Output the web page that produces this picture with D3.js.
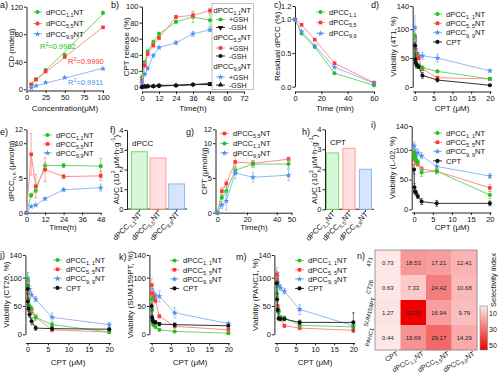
<!DOCTYPE html>
<html>
<head>
<meta charset="utf-8">
<script src="https://cdn.jsdelivr.net/npm/d3@7"></script>
<style>
  body { margin: 0; background: #fff; }
  svg { display: block; }
</style>
</head>
<body>
<svg width="500" height="373"></svg>
<script>
// ---- data ----
const concA = [6.25, 12.5, 25, 50, 100];
const cdA = [[7, 15, 28, 50, 111], [7, 14, 26, 47, 90], [2, 5, 10, 17, 30]];
const r2A = ["0.9962", "0.9990", "0.9911"];

const timeB = [0, 2, 4, 8, 12, 24, 36, 48];
const relGsh = [[12, 31, 44, 56, 66, 81, 87, 83], [8, 27, 41, 52, 61, 87, 89, 95], [5, 16, 23, 39, 49, 55, 66, 71]];
const errGsh = [[3, 2, 2, 2, 2, 2, 7, 8], [2, 2, 2, 3, 2, 2, 3, 3], [1, 1, 1, 2, 1, 2, 3, 2]];
const relNoGsh = [[0, 1, 1, 1, 2, 2, 3, 4], [0, 1, 1, 1, 1, 2, 3, 4], [0, 0, 1, 1, 2, 2, 3, 3]];

const timeC = [0, 5, 15, 30, 60];
const resC = [[1, 0.79, 0.59, 0.20, 0.02], [1, 0.92, 0.70, 0.35, 0.06], [1, 0.82, 0.61, 0.29, 0.05]];

const doses = [0.02, 0.1, 0.25, 0.5, 1, 2, 6, 20];
// order: dPCC1,1NT, dPCC5,5NT, dPCC9,9NT, CPT
const via4T1 = [[88, 55, 40, 35, 37, 33, 27, 14], [85, 68, 58, 55, 50, 31, 16, 14], [103, 80, 65, 58, 55, 54, 50, 28], [72, 48, 42, 38, 35, 20, 12, 3]];
const err4T1 = [[4, 4, 3, 3, 3, 3, 2, 2], [5, 4, 4, 3, 4, 3, 3, 2], [20, 8, 6, 5, 5, 6, 7, 2], [5, 4, 3, 3, 3, 5, 3, 1]];
const viaL02 = [[95, 92, 88, 84, 80, 62, 64, 24], [96, 90, 84, 80, 76, 68, 64, 36], [107, 100, 95, 93, 95, 90, 72, 56], [67, 37, 30, 28, 22, 13, 10, 10]];
const errL02 = [[4, 4, 4, 4, 4, 7, 5, 6], [4, 4, 4, 4, 4, 4, 4, 6], [6, 6, 5, 5, 6, 5, 5, 4], [8, 6, 4, 4, 4, 5, 5, 4]];
const viaCT26 = [[97, 85, 62, 50, 45, 30, 17, 4], [90, 72, 50, 45, 40, 30, 8, 4], [100, 93, 85, 80, 70, 62, 30, 17], [80, 58, 45, 35, 23, 11, 10, 9]];
const errCT26 = [[12, 6, 5, 5, 5, 5, 4, 2], [8, 6, 5, 5, 5, 5, 4, 2], [8, 6, 6, 5, 5, 5, 8, 4], [8, 6, 5, 5, 6, 4, 3, 2]];
const viaSUM = [[62, 43, 20, 16, 13, 8, 5, 2], [87, 72, 68, 63, 59, 32, 14, 8], [80, 76, 73, 70, 68, 67, 38, 19], [50, 30, 25, 22, 21, 18, 17, 15]];
const errSUM = [[6, 4, 3, 2, 2, 2, 2, 1], [12, 6, 5, 5, 4, 3, 3, 2], [6, 6, 5, 5, 5, 10, 9, 2], [5, 4, 3, 3, 3, 3, 3, 2]];
const viaPANC = [[92, 72, 45, 40, 30, 29, 16, 13], [105, 97, 50, 42, 30, 15, 11, 7], [108, 102, 92, 86, 82, 76, 44, 15], [90, 62, 43, 28, 27, 27, 21, 21]];
const errPANC = [[5, 5, 4, 4, 3, 3, 3, 3], [6, 5, 5, 4, 3, 3, 3, 3], [10, 6, 5, 5, 5, 5, 9, 4], [6, 5, 4, 3, 3, 3, 4, 17]];

const timeE = [0, 3, 6, 12, 24, 48];
const accE = [[0, 2.5, 3.2, 6.8, 6.8, 6.7], [0, 8.4, 3.8, 6.2, 5.2, 5.3], [0, 0.9, 1.1, 2.0, 3.3, 3.6]];
const errE = [[0, 0.3, 0.3, 0.4, 0.3, 1.1], [0, 3, 1.7, 1.7, 0.3, 0.7], [0, 0.1, 0.1, 0.15, 0.2, 0.5]];
// panel g order: dPCC5,5NT, dPCC1,1NT, dPCC9,9NT
const accG = [[0, 3.1, 4.2, 7.3, 7.1, 7.7], [0, 2.2, 3.1, 6.1, 7.0, 7.0], [0, 1.1, 1.7, 5.7, 5.1, 5.4]];
const errG = [[0, 0.5, 0.5, 0.9, 0.4, 0.3], [0, 0.3, 0.6, 0.6, 0.5, 0.6], [0, 0.5, 1.3, 0.8, 0.7, 0.8]];

const barNames = ["dPCC_{1,1}NT", "dPCC_{5,5}NT", "dPCC_{9,9}NT"];
const aucDpcc = [2.9, 2.58, 1.27];
const aucCpt = [2.82, 3.05, 2.0];

const hmCols = ["CPT", "dPCC_{1,1}NT", "dPCC_{5,5}NT", "dPCC_{9,9}NT"];
const hmRows = ["4T1", "CT26", "SUM159PT", "PANC1"];
const hmVals = [[0.73, 18.53, 17.21, 12.41], [0.63, 7.33, 24.42, 10.68], [1.27, 52.50, 16.94, 9.79], [0.44, 19.69, 29.17, 14.29]];

// ---- styles ----
const FONT = '"Liberation Sans", Arial, sans-serif';
const MARK = { g: "#1cc41c", r: "#ff3434", b: "#4d8ff0", k: "#111" };
const LINE = { g: "#6ad86a", r: "#ff8e8e", b: "#95bbf2", k: "#333" };
const FILL = { g: "#d8f6d8", r: "#ffe1e1", b: "#d6e5fb" };
const EDGE = { g: "#72db72", r: "#ff9c9c", b: "#8ab5f0" };
const SYM = { g: d3.symbolCircle, r: d3.symbolSquare, b: d3.symbolStar, k: d3.symbolCircle };
const SIZE = { g: 13, r: 13, b: 12, k: 13 };
const KEYS = ["g", "r", "b", "k"];
const TICK_FS = 7.5, TITLE_FS = 8, LEG_FS = 7.5;

const svg = d3.select("svg").attr("font-family", FONT);
svg.append("rect").attr("width", 500).attr("height", 373).attr("fill", "#fff");

// text with _{sub} and ^{sup}
function rich(t, s, fs) {
  const parts = s.split(/(_\{[^}]*\}|\^\{[^}]*\})/).filter(p => p);
  let shift = 0;
  parts.forEach(p => {
    let target = 0, size = null, str = p;
    if (p[0] === "_") { str = p.slice(2, -1); target = fs * 0.3; size = fs * 0.72; }
    else if (p[0] === "^") { str = p.slice(2, -1); target = -fs * 0.4; size = fs * 0.72; }
    const ts = t.append("tspan").attr("dy", target - shift).text(str);
    if (size) ts.attr("font-size", size);
    shift = target;
  });
}

function txt(x, y, s, o = {}) {
  const fs = o.fs || TITLE_FS;
  const t = svg.append("text").attr("x", x).attr("y", y)
    .attr("font-size", fs).attr("fill", o.fill || "#111")
    .attr("text-anchor", o.anchor || "start");
  if (o.rot) t.attr("transform", `rotate(${o.rot},${x},${y})`);
  rich(t, s, fs);
  return t;
}

function styleAxis(g) {
  g.attr("font-size", TICK_FS).attr("font-family", FONT);
  g.selectAll("path,line").attr("stroke", "#222").attr("stroke-width", 1);
  g.selectAll("text").attr("fill", "#111");
}

// axes + titles; o.ax = y of the x axis (may sit a little below y(0))
function axes(x, y, o) {
  const ax = o.ax || o.b;
  if (o.xt) {
    svg.append("g").attr("transform", `translate(0,${ax})`)
      .call(d3.axisBottom(x).tickValues(o.xt).tickSize(2.5).tickPadding(1.5).tickSizeOuter(0).tickFormat(o.xf || d3.format("")))
      .call(styleAxis);
  }
  const yl = o.yax || o.l;
  const gy = svg.append("g").attr("transform", `translate(${yl},0)`)
    .call(d3.axisLeft(y).tickValues(o.yt).tickSize(2.5).tickPadding(1).tickSizeOuter(0).tickFormat(o.yf || d3.format("")))
    .call(styleAxis);
  if (o.xlab) txt(o.xlab[0], o.xlab[1], o.xlab[2], { anchor: "middle" });
  // y title: keep clear of the tick labels that share its height
  const cy = (o.b + o.t) / 2;
  const lab = txt(0, cy, o.ylab, { anchor: "middle" });
  const half = lab.node().getComputedTextLength() / 2 + 3;
  const w = d3.max(o.yt.filter(v => Math.abs(y(v) - cy) < half), v => {
    const n = gy.selectAll(".tick text").filter(d => d === v).node();
    return n ? n.getComputedTextLength() : 0;
  }) || 0;
  const lx = Math.max(7, yl - 3.5 - w - 0.8);
  lab.attr("x", lx).attr("transform", `rotate(-90,${lx},${cy})`);
  txt(o.letter[0], o.letter[1], o.letter[2], { fs: 9 });
}

function panel(o) {
  const x = d3.scaleLinear().domain(o.xd).range([o.l, o.r]);
  const y = d3.scaleLinear().domain(o.yd).range([o.b, o.t]);
  axes(x, y, o);
  return { x, y };
}

function marker(g, x, y, key, sym, size, flip) {
  g.append("path")
    .attr("transform", `translate(${x},${y})${flip ? " rotate(180)" : ""}`)
    .attr("d", d3.symbol(sym, size || SIZE[key])())
    .attr("fill", MARK[key]);
}

function series(p, xs, ys, es, key, sym, opt = {}) {
  const g = svg.append("g");
  const pts = xs.map((v, i) => ({ px: p.x(v), py: p.y(ys[i]), v: ys[i], e: es ? es[i] : 0 }));
  g.append("path")
    .attr("d", d3.line().x(d => d.px).y(d => d.py)(pts))
    .attr("fill", "none").attr("stroke", LINE[key]).attr("stroke-width", 1);
  pts.filter(d => d.e > 0).forEach(d => {
    const y1 = p.y(d.v - d.e), y2 = p.y(d.v + d.e);
    g.append("path")
      .attr("d", `M${d.px},${y1}V${y2}M${d.px - 1.5},${y1}h3M${d.px - 1.5},${y2}h3`)
      .attr("stroke", key === "k" ? "#555" : LINE[key]).attr("stroke-width", 0.8).attr("fill", "none");
  });
  pts.forEach(d => marker(g, d.px, d.py, key, sym, opt.size, opt.flip));
}

function legendItem(x, y, key, sym, label, opt = {}) {
  const g = svg.append("g");
  g.append("line").attr("x1", x).attr("x2", x + 9).attr("y1", y).attr("y2", y)
    .attr("stroke", LINE[key]).attr("stroke-width", 1);
  marker(g, x + 4.5, y, key, sym, null, opt.flip);
  txt(x + 13, y + 2.7, label, { fs: opt.fs || LEG_FS });
}

// ---- a) CD vs concentration ----
{
  const p = panel({ l: 26.5, r: 103, b: 89.3, t: 6.7, ax: 90.5, xd: [0, 100], yd: [0, 120],
    xt: [0, 25, 50, 75, 100], yt: [0, 40, 80, 120],
    xlab: [65, 111, "Concentration(μM)"], ylab: "CD (mdeg)", letter: [0, 8, "a)"] });
  const keys = ["g", "r", "b"];
  cdA.forEach((ys, i) => {
    const mx = d3.mean(concA), my = d3.mean(ys);
    const k = d3.sum(concA, (c, j) => (c - mx) * (ys[j] - my)) / d3.sum(concA, c => (c - mx) ** 2);
    const b0 = my - k * mx;
    svg.append("line").attr("x1", p.x(5)).attr("x2", p.x(100))
      .attr("y1", p.y(b0 + k * 5)).attr("y2", p.y(b0 + k * 100))
      .attr("stroke", LINE[keys[i]]).attr("stroke-width", 1);
    const g = svg.append("g");
    concA.forEach((c, j) => marker(g, p.x(c), p.y(ys[j]), keys[i], SYM[keys[i]]));
  });
  txt(40, 49, "R^{2}=" + r2A[0], { fill: MARK.g, fs: LEG_FS });
  txt(68, 64, "R^{2}=" + r2A[1], { fill: MARK.r, fs: LEG_FS });
  txt(68, 85, "R^{2}=" + r2A[2], { fill: MARK.b, fs: LEG_FS });
  legendItem(33, 12, "g", SYM.g, "dPCC_{1,1}NT");
  legendItem(33, 23.5, "r", SYM.r, "dPCC_{5,5}NT");
  legendItem(33, 34, "b", SYM.b, "dPCC_{9,9}NT");
}

// ---- b) CPT release ----
{
  const p = panel({ l: 142, r: 244, b: 87, t: 6.5, ax: 91.5, xd: [0, 72], yd: [0, 100],
    xt: d3.range(0, 73, 12), yt: d3.range(0, 101, 20),
    xlab: [193, 111, "Time(h)"], ylab: "CPT release (%)", letter: [111, 8, "b)"] });
  ["g", "r", "b"].forEach((k, i) => series(p, timeB, relGsh[i], errGsh[i], k, SYM[k]));
  series(p, timeB, relNoGsh[0], null, "k", d3.symbolTriangle, { flip: true, size: 11 });
  series(p, timeB, relNoGsh[1], null, "k", d3.symbolCircle, { size: 11 });
  series(p, timeB, relNoGsh[2], null, "k", d3.symbolTriangle, { size: 11 });
  svg.append("rect").attr("x", 212).attr("y", 3.5).attr("width", 41.5).attr("height", 86)
    .attr("fill", "none").attr("stroke", "#999").attr("stroke-width", 0.6);
  txt(213.5, 13, "dPCC_{1,1}NT", { fs: LEG_FS });
  legendItem(216, 19.5, "g", SYM.g, "+GSH", { fs: 7 });
  legendItem(216, 27.5, "k", d3.symbolTriangle, "-GSH", { fs: 7, flip: true });
  txt(213.5, 40, "dPCC_{5,5}NT", { fs: LEG_FS });
  legendItem(216, 48, "r", SYM.r, "+GSH", { fs: 7 });
  legendItem(216, 56, "k", d3.symbolCircle, "-GSH", { fs: 7 });
  txt(213.5, 69, "dPCC_{9,9}NT", { fs: LEG_FS });
  legendItem(216, 77, "b", SYM.b, "+GSH", { fs: 7 });
  legendItem(216, 85, "k", d3.symbolTriangle, "-GSH", { fs: 7 });
}

// ---- c) residual dPCC ----
{
  const p = panel({ l: 295, r: 374, b: 86.7, t: 6, ax: 91.5, xd: [0, 60], yd: [0, 1.2],
    xt: [0, 20, 40, 60], yt: [0, 0.5, 1, 1.2], yf: d3.format(".1f"),
    xlab: [335, 111, "Time (min)"], ylab: "Residual dPCC (%)", letter: [274, 8, "c)"] });
  ["g", "r", "b"].forEach((k, i) => series(p, timeC, resC[i], null, k, SYM[k]));
  legendItem(316, 12, "g", SYM.g, "dPCC_{1,1}");
  legendItem(316, 22.5, "r", SYM.r, "dPCC_{5,5}");
  legendItem(316, 33.5, "b", SYM.b, "dPCC_{9,9}");
}

// ---- dose-response panels ----
function dosePanel(o, vals, errs, lx, ly) {
  const p = panel(Object.assign({ xd: [-0.6, 20.3], yd: [0, 140], xt: [0, 5, 10, 15, 20], yt: [0, 50, 100, 140] }, o));
  [2, 1, 0, 3].forEach(i => series(p, doses, vals[i], errs[i], KEYS[i], SYM[KEYS[i]]));
  const labs = ["dPCC_{1, 1}NT", "dPCC_{5, 5}NT", "dPCC_{9, 9}NT", "CPT"];
  labs.forEach((s, i) => legendItem(lx, ly + i * 9.3, KEYS[i], SYM[KEYS[i]], s));
}

dosePanel({ l: 412.7, r: 491, b: 87, t: 6, ax: 91.5, xlab: [452, 111, "CPT (μM)"], ylab: "Viability (4T1, %)", letter: [371, 8, "d)"] },
  via4T1, err4T1, 433, 14);
dosePanel({ l: 411.7, r: 491, b: 209.3, t: 126, ax: 212.5, xlab: [452, 230, "CPT (μM)"], ylab: "Viability (L-02, %)", letter: [371, 128, "i)"] },
  viaL02, errL02, 433, 133);
dosePanel({ l: 25.45, r: 110.5, xd: [-0.5, 20.3], b: 334.3, t: 255, ax: 343, xlab: [68, 364.5, "CPT (μM)"], ylab: "Viability (CT26, %)", letter: [0, 258, "j)"] },
  viaCT26, errCT26, 53, 260);
dosePanel({ l: 149.4, r: 229.5, b: 334.3, t: 255, ax: 343, xlab: [190, 364.5, "CPT (μM)"], ylab: "Viability (SUM159PT, %)", letter: [119, 260, "k)"] },
  viaSUM, errSUM, 170, 260.5);
dosePanel({ l: 274.4, r: 354.5, b: 334.3, t: 255, ax: 343, xlab: [315, 364.5, "CPT (μM)"], ylab: "Viability (PANC1, %)", letter: [236, 260, "m)"] },
  viaPANC, errPANC, 295, 260.5);

// ---- e) dPCC accumulation ----
{
  const p = panel({ l: 26.5, r: 100.7, b: 212.7, t: 129.3, xd: [0, 48], yd: [0, 12],
    xt: [0, 12, 24, 36, 48], yt: [0, 5, 10, 12],
    xlab: [63, 230, "Time(h)"], ylab: "dPCC_{n,n} (μmol/g)", letter: [0, 135, "e)"] });
  ["g", "r", "b"].forEach((k, i) => series(p, timeE, accE[i], errE[i], k, SYM[k]));
  legendItem(43, 135, "g", SYM.g, "dPCC_{1,1}NT");
  legendItem(43, 144, "r", SYM.r, "dPCC_{5,5}NT");
  legendItem(43, 153, "b", SYM.b, "dPCC_{9,9}NT");
}

// ---- g) CPT accumulation ----
{
  const p = panel({ l: 215.5, r: 291.5, b: 212.7, t: 129.3, xd: [-1.3, 50], yd: [0, 12],
    xt: [0, 20, 40, 50], yt: [0, 5, 10, 12],
    xlab: [254, 230, "Time(h)"], ylab: "CPT (μmol/g)", letter: [186, 135, "g)"] });
  const order = ["r", "g", "b"];
  order.forEach((k, i) => series(p, timeE, accG[i], errG[i], k, SYM[k]));
  legendItem(220, 133.5, "r", SYM.r, "dPCC_{5,5}NT");
  legendItem(220, 143.5, "g", SYM.g, "dPCC_{1,1}NT");
  legendItem(220, 153, "b", SYM.b, "dPCC_{9,9}NT");
}

// ---- f) / h) AUC bars ----
function barPanel(o, vals, tag) {
  const x = d3.scaleBand().domain(barNames).range([o.l, o.r]).paddingInner(o.pi).paddingOuter(o.po);
  const y = d3.scaleLinear().domain([0, 4]).range([o.b, o.t]);
  svg.append("line").attr("x1", o.yax).attr("x2", o.xend).attr("y1", o.b).attr("y2", o.b)
    .attr("stroke", "#222").attr("stroke-width", 1);
  svg.append("g").attr("transform", `translate(0,${o.b})`)
    .call(d3.axisBottom(x).tickSize(2.5).tickSizeOuter(0).tickFormat(""))
    .call(styleAxis).call(g => g.select(".domain").remove());
  axes(x, y, Object.assign({ yt: [0, 1, 2, 3, 4] }, o));
  const keys = ["g", "r", "b"];
  barNames.forEach((n, i) => {
    svg.append("rect").attr("x", x(n) + 0.5).attr("y", y(vals[i]))
      .attr("width", x.bandwidth() - 1).attr("height", y(0) - y(vals[i]))
      .attr("fill", FILL[keys[i]]).attr("stroke", EDGE[keys[i]]).attr("stroke-width", 1);
    txt(x(n) + x.bandwidth() / 2 + 3, o.b + 5.5, n, { anchor: "end", rot: -45, fs: LEG_FS });
  });
  txt(o.yax + 5, o.t + 16, tag);
}
barPanel({ l: 130, r: 186, pi: 0.1, po: 0.05, yax: 127, xend: 187, b: 209, t: 130,
  ylab: "AUC (10^{2} μM·h·g^{-1})", letter: [110, 133, "f)"] }, aucDpcc, "dPCC");
barPanel({ l: 326, r: 372, pi: 0.2, po: 0, yax: 325, xend: 374, b: 209.3, t: 129.3,
  ylab: "AUC (10^{2} μM·h·g^{-1})", letter: [302, 135, "h)"] }, aucCpt, "CPT");

// ---- n) selectivity heatmap ----
{
  const hx = d3.scaleBand().domain(hmCols).range([375, 477]);
  const hy = d3.scaleBand().domain(hmRows).range([250, 350]);
  const col = d3.scaleLinear().domain([0, 52.5]).range(["#fdeaea", "#ee0000"]);
  const cells = hmVals.flatMap((row, i) => row.map((v, j) => ({ r: hmRows[i], c: hmCols[j], v })));
  svg.append("g").selectAll("rect").data(cells).join("rect")
    .attr("x", d => hx(d.c)).attr("y", d => hy(d.r))
    .attr("width", hx.bandwidth() + 0.3).attr("height", hy.bandwidth() + 0.3)
    .attr("fill", d => col(d.v));
  svg.append("g").selectAll("text").data(cells).join("text")
    .attr("x", d => hx(d.c) + hx.bandwidth() / 2).attr("y", d => hy(d.r) + hy.bandwidth() / 2 + 2)
    .attr("text-anchor", "middle").attr("font-size", 6).attr("fill", "#222")
    .text(d => d.v.toFixed(2));
  svg.append("rect").attr("x", 375).attr("y", 250).attr("width", 102).attr("height", 100)
    .attr("fill", "none").attr("stroke", "#888").attr("stroke-width", 0.8);
  hmRows.forEach(r => txt(371.5, hy(r) + hy.bandwidth() / 2, r, { anchor: "middle", rot: -75, fs: 5.8 }));
  hmCols.forEach(c => txt(hx(c) + hx.bandwidth() / 2 + 11, 355, c, { anchor: "end", rot: -30, fs: 7 }));
  txt(357, 259, "n)", { fs: 9 });

  // colour bar
  const grad = svg.append("defs").append("linearGradient").attr("id", "cb")
    .attr("x1", 0).attr("x2", 0).attr("y1", 0).attr("y2", 1);
  grad.append("stop").attr("offset", 0).attr("stop-color", col(0));
  grad.append("stop").attr("offset", 1).attr("stop-color", col(56));
  const cy = d3.scaleLinear().domain([0, 56]).range([306, 350]);
  svg.append("rect").attr("x", 480).attr("y", 306).attr("width", 7.5).attr("height", 44)
    .attr("fill", "url(#cb)").attr("stroke", "#888").attr("stroke-width", 0.6);
  svg.append("g").selectAll("text").data([10, 30, 50]).join("text")
    .attr("x", 489).attr("y", d => cy(d) + 2.5).attr("font-size", 7).attr("fill", "#111").text(d => d);
  txt(496, 280, "Selectivity index", { anchor: "middle", rot: -90, fs: 7.5 });
}
</script>
</body>
</html>
